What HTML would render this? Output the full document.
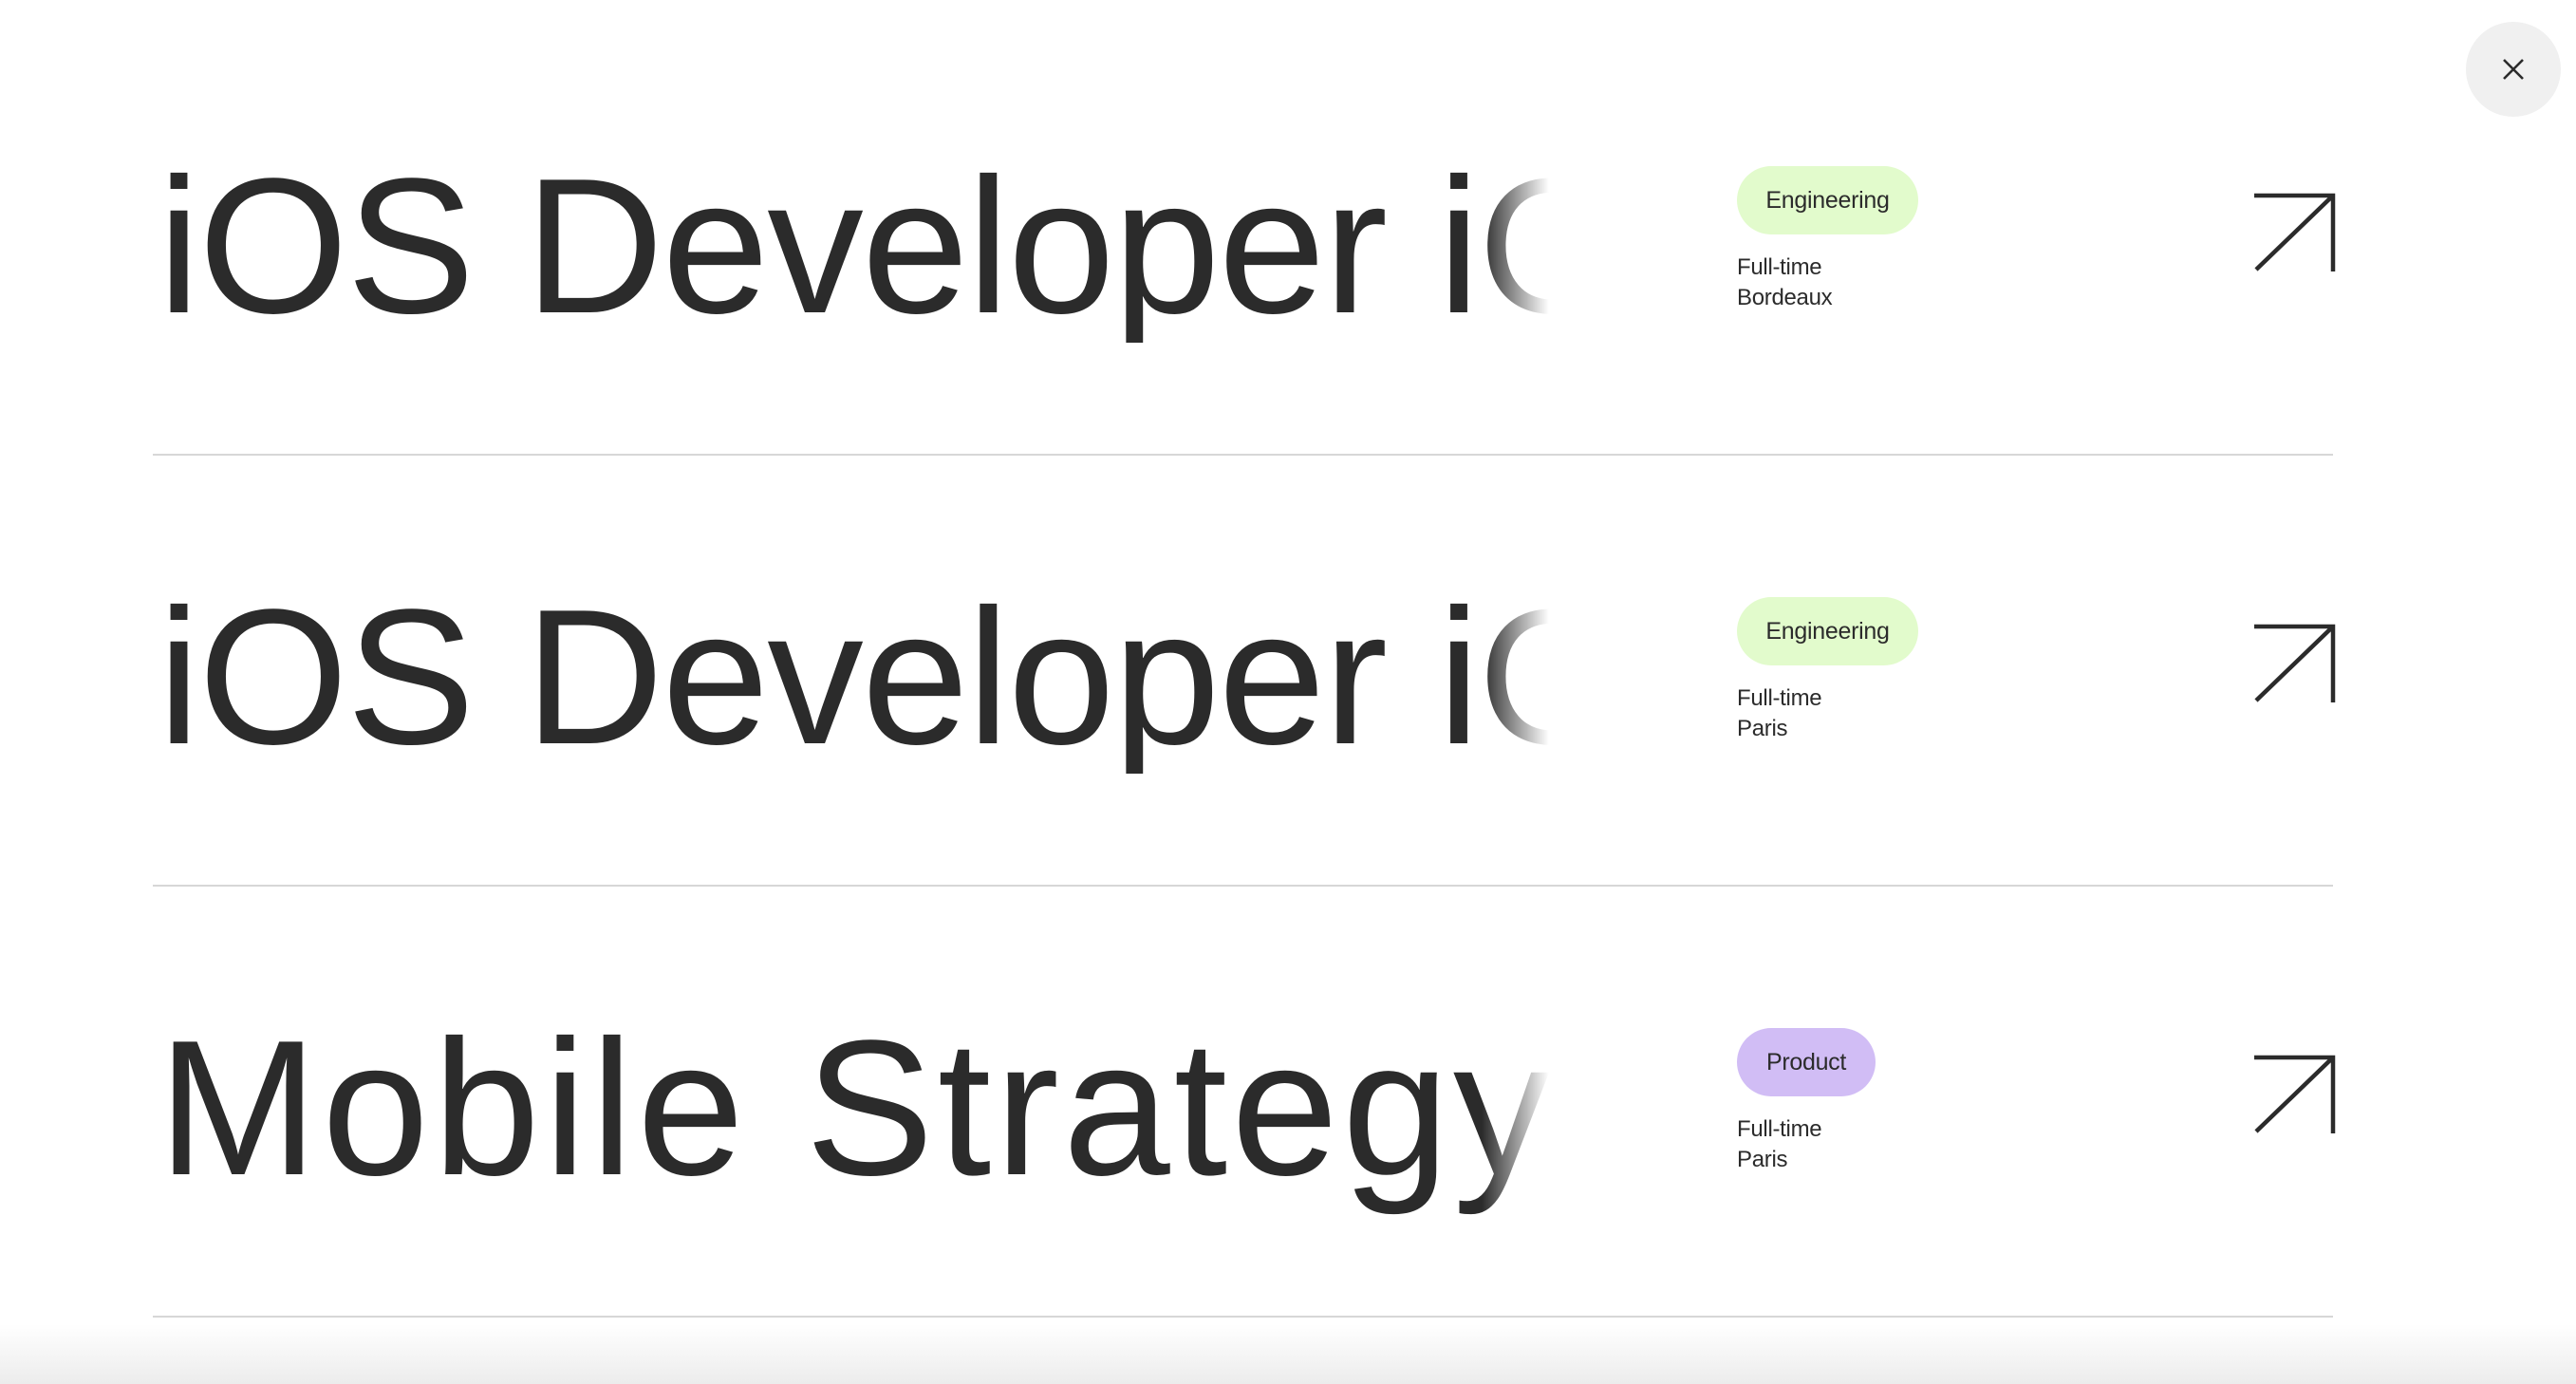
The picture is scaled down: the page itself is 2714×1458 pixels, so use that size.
<!DOCTYPE html>
<html><head><meta charset="utf-8"><style>
html,body{margin:0;padding:0;}
body{width:2714px;height:1458px;position:relative;overflow:hidden;background:#fff;font-family:"Liberation Sans",sans-serif;color:#2b2b2b;}
.t{position:absolute;left:166px;width:1466px;font-size:203px;line-height:1;letter-spacing:-2px;white-space:nowrap;overflow:hidden;
-webkit-mask-image:linear-gradient(to right,#000 0,#000 1395px,transparent 1466px);mask-image:linear-gradient(to right,#000 0,#000 1395px,transparent 1466px);}
.sep{position:absolute;left:161px;width:2297px;height:2px;background:#d7d7d7;}
.pill{position:absolute;left:1830px;height:72px;border-radius:36px;display:flex;align-items:center;justify-content:center;font-size:25px;letter-spacing:-0.3px;}
.g{width:191px;background:#e2fbcc;}
.p{width:146px;background:#d1bdf5;}
.s{position:absolute;left:1830px;font-size:24px;line-height:1;letter-spacing:-0.3px;}
svg.a{position:absolute;left:2372px;width:90px;height:90px;}
.close{position:absolute;left:2598px;top:23px;width:100px;height:100px;border-radius:50%;background:#f0f0f0;}
.bot{position:absolute;left:0;top:1395px;width:2714px;height:63px;background:linear-gradient(#fff,#ececec);}
</style></head><body>
<div class="bot"></div>
<div class="close"><svg width="100" height="100"><path d="M40 40 L60 60 M60 40 L40 60" stroke="#2b2b2b" stroke-width="2.6" fill="none"/></svg></div>

<div class="t" style="top:158px">iOS Developer iOS Developer</div>
<div class="pill g" style="top:175px">Engineering</div>
<div class="s" style="top:270px">Full-time</div>
<div class="s" style="top:302px">Bordeaux</div>
<svg class="a" style="top:202px" viewBox="0 0 90 90"><path d="M3 4 H86 V84 M86 4 L5 82" stroke="#2b2b2b" stroke-width="4.5" fill="none"/></svg>
<div class="sep" style="top:478px"></div>

<div class="t" style="top:612px">iOS Developer iOS Developer</div>
<div class="pill g" style="top:629px">Engineering</div>
<div class="s" style="top:724px">Full-time</div>
<div class="s" style="top:756px">Paris</div>
<svg class="a" style="top:656px" viewBox="0 0 90 90"><path d="M3 4 H86 V84 M86 4 L5 82" stroke="#2b2b2b" stroke-width="4.5" fill="none"/></svg>
<div class="sep" style="top:932px"></div>

<div class="t" style="top:1066px;height:240px;letter-spacing:4px">Mobile Strategy</div>
<div class="pill p" style="top:1083px">Product</div>
<div class="s" style="top:1178px">Full-time</div>
<div class="s" style="top:1210px">Paris</div>
<svg class="a" style="top:1110px" viewBox="0 0 90 90"><path d="M3 4 H86 V84 M86 4 L5 82" stroke="#2b2b2b" stroke-width="4.5" fill="none"/></svg>
<div class="sep" style="top:1386px"></div>
</body></html>
